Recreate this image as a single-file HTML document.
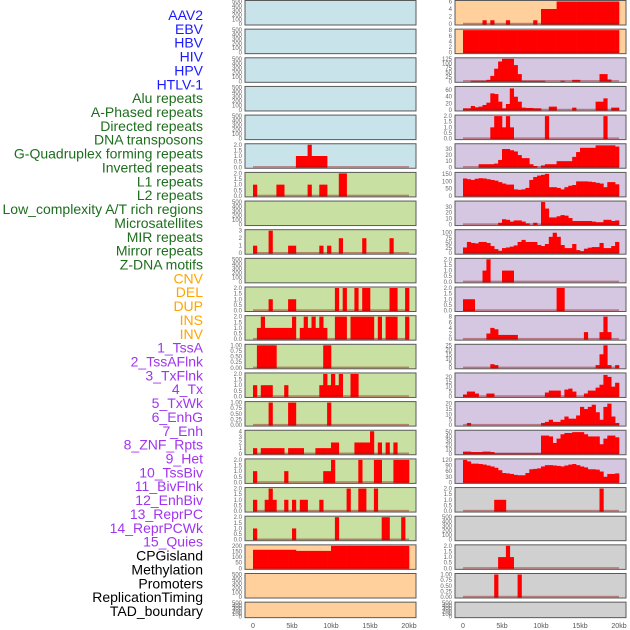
<!DOCTYPE html>
<html><head><meta charset="utf-8">
<style>
html,body{margin:0;padding:0;background:#fff;}
svg{display:block;font-family:"Liberation Sans",sans-serif;}
</style></head>
<body>
<svg id="chart" width="630" height="630" viewBox="0 0 630 630" xmlns="http://www.w3.org/2000/svg"></svg>
<script>
const trackLabels = ["AAV2","EBV","HBV","HIV","HPV","HTLV-1","Alu repeats","A-Phased repeats","Directed repeats","DNA transposons","G-Quadruplex forming repeats","Inverted repeats","L1 repeats","L2 repeats","Low_complexity A/T rich regions","Microsatellites","MIR repeats","Mirror repeats","Z-DNA motifs","CNV","DEL","DUP","INS","INV","1_TssA","2_TssAFlnk","3_TxFlnk","4_Tx","5_TxWk","6_EnhG","7_Enh","8_ZNF_Rpts","9_Het","10_TssBiv","11_BivFlnk","12_EnhBiv","13_ReprPC","14_ReprPCWk","15_Quies","CPGisland","Methylation","Promoters","ReplicationTiming","TAD_boundary"];
const labelColors = ["#1a1aff","#1a1aff","#1a1aff","#1a1aff","#1a1aff","#1a1aff","#1e6e1e","#1e6e1e","#1e6e1e","#1e6e1e","#1e6e1e","#1e6e1e","#1e6e1e","#1e6e1e","#1e6e1e","#1e6e1e","#1e6e1e","#1e6e1e","#1e6e1e","#ffa500","#ffa500","#ffa500","#ffa500","#ffa500","#a035f0","#a035f0","#a035f0","#a035f0","#a035f0","#a035f0","#a035f0","#a035f0","#a035f0","#a035f0","#a035f0","#a035f0","#a035f0","#a035f0","#a035f0","#000","#000","#000","#000","#000"];
const xTickLabels = ["0","5kb","10kb","15kb","20kb"];
const xTickValues = [0,5,10,15,20];

const emptyTicks = ["0","100","200","300","400","500"];
const ticks2 = ["0.0","0.5","1.0","1.5","2.0"];
const ticks1 = ["0.00","0.25","0.50","0.75","1.00"];

const vL5  = [0,0,0,0,0,0,0,0,0,0, 0,1,1,1,2,1,1,1,1,0, 0,0,0,0,0,0,0,0,0,0, 0,0,0,0,0,0,0,0,0,0];
const vL6  = [1,0,0,0,0,0,1,1,0,0, 0,0,0,0,1,0,0,1,1,0, 0,0,2,2,0,0,0,0,0,0, 0,0,0,0,0,0,0,0,0,0];
const vL8  = [1,0,0,0,3,0,0,0,0,1, 1,0,0,0,0,0,0,1,0,1, 0,0,2,0,0,0,0,0,2,0, 0,0,0,0,0,2,0,0,0,0];
const vL10 = [0,0,0,0,1,0,0,0,0,1, 1,0,0,0,0,0,0,0,0,0, 0,2,0,2,0,0,2,0,2,2, 0,0,0,0,0,2,2,0,0,2];
const vL11 = [0,1,2,1,1,1,1,1,1,1, 2,0,1,2,1,2,1,2,1,0, 0,2,2,2,0,2,2,2,2,2, 2,0,2,0,2,2,2,0,0,2];
const vL12 = [0,1,1,1,1,1,0,0,0,0, 0,0,0,0,0,0,0,0,1,1, 0,0,0,0,0,0,0,0,0,0, 0,0,0,0,0,0,0,0,0,0];
const vL13 = [1,0,1,1,1,0,0,0,1,0, 0,0,0,0,0,0,0,1,2,1, 2,1,2,0,0,2,2,0,0,0, 0,0,0,0,0,0,0,0,0,0];
const vL14 = [0,0,0,0,1,0,0,0,0,1, 1,0,0,0,0,0,0,0,0,1, 0,0,0,0,0,0,0,0,0,0, 0,0,0,0,0,0,0,0,0,0];
const vL15 = [1,0,1,1,1,1,1,1,0,1, 1,1,1,0,0,0,1,1,1,1, 2,2,0,0,0,0,2,2,2,2, 4,0,2,0,2,0,2,0,0,0];
const vL16 = [1,0,0,0,0,0,0,0,1,0, 0,0,0,0,0,0,0,0,1,1, 2,0,0,0,0,0,0,2,0,0, 0,2,2,0,0,0,2,2,2,2];
const vL17 = [1,0,0,1,2,1,0,0,1,0, 1,0,1,1,0,0,0,1,0,0, 0,0,0,0,2,0,0,2,2,0, 0,2,0,0,0,0,0,0,0,0];
const vL18 = [1,0,0,0,0,0,0,0,0,0, 1,0,0,0,0,0,0,0,0,0, 0,2,0,0,0,0,0,0,0,0, 0,0,0,2,2,0,0,0,2,0];
const vL19 = [165,165,165,165,165,165,165,165,165,165, 165,155,155,155,155,155,155,155,155,155, 200,200,200,200,200,200,200,200,200,200, 200,200,200,200,200,200,200,200,200,200];

const vR0  = [0,0,0,0,0,1,0,1,0,0, 0,1,0,0,0,0,0,0,1,0, 4,4,4,4,6,6,6,6,6,6, 6,6,6,6,6,6,6,6,6,6];
const vR1  = [8,8,8,8,8,8,8,8,8,8, 8,8,8,8,8,8,8,8,8,8, 8,8,8,8,8,8,8,8,8,8, 8,8,8,8,8,8,8,8,8,8];
const vR2  = [0,0,3,3,3,3,8,30,70,110, 125,125,125,90,40,3,3,3,3,3, 3,0,0,0,0,3,0,0,8,8, 0,0,0,0,0,40,40,10,0,0];
const vR3  = [5,5,12,8,10,15,22,50,48,25, 5,18,65,40,25,7,6,6,5,5, 0,0,10,10,0,0,0,0,7,0, 0,0,0,0,25,25,35,0,7,7];
const vR4  = [0,0,0,0,0,0,0,1,2,2, 1,2,1,0,0,0,0,0,0,0, 0,2,0,0,0,0,0,0,0,0, 0,0,0,0,0,0,2,0,0,0];
const vR5  = [0,0,0,0,5,5,5,5,6,12, 30,30,28,26,20,15,15,5,2,0, 3,5,5,5,10,10,10,10,17,25, 32,32,32,32,36,36,36,36,36,34];
const vR6  = [120,115,110,118,122,120,115,110,105,95, 85,78,78,45,42,45,55,110,130,140, 145,152,60,60,55,45,60,70,75,100, 100,100,98,95,90,85,60,95,95,80];
const vR7  = [0,0,0,0,0,0,0,0,0,3, 9,8,5,7,7,5,2,0,3,0, 38,27,12,12,14,16,15,11,6,6, 6,6,6,5,4,4,8,8,6,7];
const vR8  = [28,55,50,48,55,55,50,35,20,12, 25,28,32,38,55,65,55,55,55,40, 35,45,80,100,80,40,25,25,45,15, 10,22,27,30,30,50,25,25,35,55];
const vR9  = [0,0,0,0,0,1,2,0,0,0, 1,1,1,0,0,0,0,0,0,0, 0,0,0,0,0,0,0,0,0,0, 0,0,0,0,0,0,0,0,0,0];
const vR10 = [1,1,1,0,0,0,0,0,0,0, 0,0,0,0,0,0,0,0,0,0, 0,0,0,0,2,2,0,0,0,0, 0,0,0,0,0,0,0,0,0,0];
const vR11 = [0,0,0,0,0,0,2,4,3.5,1.5, 1.5,1.5,1.5,1.5,0,0,0,0,0,0, 0,0,0,0,0,0,0,0,0,0, 0,2.5,0,0,0,2.5,8,2.5,0,0];
const vR12 = [0,0,0,0,0,0,0,4,3,0, 0,0,0,0,0,0,0,0,0,0, 0,0,0,0,0,0,0,0,0,0, 0,0,0,0,3,15,25,3,0,3];
const vR13 = [2,5,5,3,0,0,3,3,0,0, 0,0,0,0,0,0,0,0,0,0, 0,4,6,6,6,0,7,8,5,0, 0,3,6,6,9,12,22,20,10,14];
const vR14 = [0,2,0,0,0,0,0,0,0,0, 0,0,0,0,0,0,0,0,0,0, 2,3,5,3,3,5,8,6,6,9, 17,15,17,19,12,5,17,20,8,2];
const vR15 = [5,5,4,4,4,5,5,4,1,1, 1,1,1,1,1,1,1,1,1,1, 42,42,40,25,35,45,48,48,50,50, 50,45,40,40,40,22,35,42,42,38];
const vR16 = [120,112,100,100,98,95,90,85,78,65, 50,48,45,40,38,38,50,70,72,75, 85,92,92,90,88,85,90,95,98,92, 85,80,70,70,68,58,30,45,45,48];
const vR17 = [0,0,0,0,0,0,0,0,1,1, 1,0,0,0,0,0,0,0,0,0, 0,0,0,0,0,0,0,0,0,0, 0,0,0,0,0,2,0,0,0,0];
const vR19 = [0,0,0,0,0,0,0,0,0,1, 1,2,1,0,0,0,0,0,0,0, 0,0,0,0,0,0,0,0,0,0, 0,0,0,0,0,0,0,0,0,0];
const vR20 = [0,0,0,0,0,0,0,0,1,0, 0,0,0,0,1,0,0,0,0,0, 0,0,0,0,0,0,0,0,0,0, 0,0,0,0,0,0,0,0,0,0];

const BG = {blue:"#c9e3ea",green:"#c8e0a2",orange:"#ffd09c",purple:"#d5c6e1",gray:"#d0d0d0"};
// [values, ymax, tickLabels, bg]
const panels = [
 [null,500,emptyTicks,"blue"],[null,500,emptyTicks,"blue"],[null,500,emptyTicks,"blue"],[null,500,emptyTicks,"blue"],[null,500,emptyTicks,"blue"],
 [vL5,2,ticks2,"blue"],
 [vL6,2,ticks2,"green"],[null,500,emptyTicks,"green"],[vL8,3,["0","1","2","3"],"green"],[null,500,emptyTicks,"green"],
 [vL10,2,ticks2,"green"],[vL11,2,ticks2,"green"],[vL12,1,ticks1,"green"],[vL13,2,ticks2,"green"],[vL14,1,ticks1,"green"],
 [vL15,4,["0","1","2","3","4"],"green"],[vL16,2,ticks2,"green"],[vL17,2,ticks2,"green"],[vL18,2,ticks2,"green"],
 [vL19,200,["0","50","100","150","200"],"orange"],[null,500,emptyTicks,"orange"],[null,500,emptyTicks,"orange"],
 [vR0,6,["0","2","4","6"],"orange"],[vR1,8,["0","2","4","6","8"],"orange"],
 [vR2,125,["0","25","50","75","100","125"],"purple"],[vR3,68,["0","20","40","60"],"purple"],[vR4,2,ticks2,"purple"],
 [vR5,37,["0","10","20","30"],"purple"],[vR6,155,["0","50","100","150"],"purple"],[vR7,38,["0","10","20","30"],"purple"],
 [vR8,110,["0","25","50","75","100"],"purple"],[vR9,2,ticks2,"purple"],[vR10,2,ticks2,"purple"],[vR11,8,["0","2","4","6","8"],"purple"],
 [vR12,25,["0","5","10","15","20","25"],"purple"],[vR13,23,["0","5","10","15","20"],"purple"],[vR14,21,["0","5","10","15","20"],"purple"],
 [vR15,52,["0","10","20","30","40","50"],"purple"],[vR16,120,["0","30","60","90","120"],"purple"],
 [vR17,2,ticks2,"gray"],[null,500,emptyTicks,"gray"],[vR19,2,ticks2,"gray"],[vR20,1,ticks1,"gray"],[null,500,emptyTicks,"gray"]
];

const svg = document.getElementById('chart');
const NS = "http://www.w3.org/2000/svg";
function mk(tag, attrs, parent){ const e=document.createElementNS(NS,tag); for(const k in attrs) e.setAttribute(k,attrs[k]); (parent||svg).appendChild(e); return e; }

// labels
trackLabels.forEach((lab,i)=>{
  const t = mk('text',{x:203,y:(15+i*13.86+5).toFixed(1),'text-anchor':'end','font-size':'14',fill:labelColors[i]});
  t.textContent = lab;
  
  
});

const KB = 7.8, BINW = 3.9;
panels.forEach((p,idx)=>{
  const col = idx < 22 ? 0 : 1;
  const row = idx % 22;
  const px = col===0 ? 245 : 455;
  const x0 = col===0 ? 253 : 463;
  const pw = 171;
  const top = row*28.65 + 0.5;
  const h = row===21 ? 15.5 : 24.5;
  const bottom = top + h;
  const [vals, ymax, tks, bg] = p;
  const yS = v => bottom - 1 - (v/ymax)*(h-2);
  const g = mk('g',{});
  
  
  const r = mk('rect',{x:px,y:top,width:pw,height:h,fill:BG[bg],stroke:'#5a5a5a','stroke-width':1},g);
  
  
  if (vals){
    vals.forEach((v,i)=>{
      if (v<=0) return;
      const b = mk('rect',{x:(x0+i*BINW).toFixed(2),y:yS(v).toFixed(2),width:BINW+0.3,height:(bottom-0.5-yS(v)).toFixed(2),fill:'#ff0000'},g);
      
      
    });
    const bl = mk('rect',{x:x0,y:bottom-2.2,width:20*KB,height:1.6,fill:'rgba(150,20,20,0.45)'},g);
    
    
  }
  tks.forEach(lbl=>{
    const v = parseFloat(lbl);
    const t = mk('text',{x:px-3,y:(yS(v)+2).toFixed(1),'text-anchor':'end','font-size':'6',fill:'#666'},g);
    t.textContent = lbl;
    
    
  });
});

// x axis tick labels
[253,463].forEach(x0=>{
  xTickValues.forEach((v,i)=>{
    const t = mk('text',{x:x0+v*KB,y:628,'text-anchor':'middle','font-size':'7',fill:'#555'});
    t.textContent = xTickLabels[i];
    
    
  });
});
</script>
</body></html>
